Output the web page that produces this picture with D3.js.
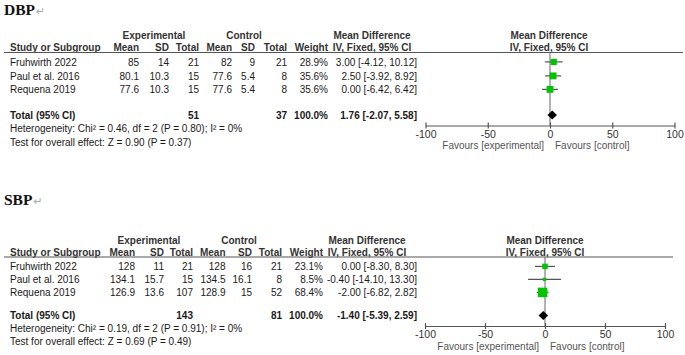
<!DOCTYPE html>
<html>
<head>
<meta charset="utf-8">
<script src="https://cdn.jsdelivr.net/npm/d3@7"></script>
<style>
  body { margin: 0; background: #fff; }
  svg { display: block; }
  text { font-family: "Liberation Sans", Arial, sans-serif; font-size: 10px; fill: #1a1a1a; }
  .hdr { font-weight: bold; fill: #333; }
  .bold { font-weight: bold; }
  .axis path, .axis line { stroke: #555; }
  .axis text { font-family: "Liberation Sans", Arial, sans-serif; font-size: 10.5px; fill: #333; }
</style>
</head>
<body>
<svg width="685" height="355"></svg>
<script>
/* data */
var studies = ["Fruhwirth  2022", "Paul et al. 2016", "Requena 2019"];
var tickValues = [-100, -50, 0, 50, 100];

// DBP
var dbpExpMean = [85, 80.1, 77.6],
    dbpExpSD = [14, 10.3, 10.3],
    dbpExpN = [21, 15, 15],
    dbpCtlMean = [82, 77.6, 77.6],
    dbpCtlSD = [9, 5.4, 5.4],
    dbpCtlN = [21, 8, 8],
    dbpWeight = [28.9, 35.6, 35.6],
    dbpMD = [3.00, 2.50, 0.00],
    dbpLo = [-4.12, -3.92, -6.42],
    dbpHi = [10.12, 8.92, 6.42];
var dbpTotal = [51, 37, 100.0, 1.76, -2.07, 5.58]; // expN, ctlN, weight, md, lo, hi
var dbpHet = "Heterogeneity: Chi\u00b2 = 0.46, df = 2 (P = 0.80); I\u00b2 = 0%",
    dbpTest = "Test for overall effect: Z = 0.90 (P = 0.37)";

// SBP
var sbpExpMean = [128, 134.1, 126.9],
    sbpExpSD = [11, 15.7, 13.6],
    sbpExpN = [21, 15, 107],
    sbpCtlMean = [128, 134.5, 128.9],
    sbpCtlSD = [16, 16.1, 15],
    sbpCtlN = [21, 8, 52],
    sbpWeight = [23.1, 8.5, 68.4],
    sbpMD = [0.00, -0.40, -2.00],
    sbpLo = [-8.30, -14.10, -6.82],
    sbpHi = [8.30, 13.30, 2.82];
var sbpTotal = [143, 81, 100.0, -1.40, -5.39, 2.59];
var sbpHet = "Heterogeneity: Chi\u00b2 = 0.19, df = 2 (P = 0.91); I\u00b2 = 0%",
    sbpTest = "Test for overall effect: Z = 0.69 (P = 0.49)";

var svg = d3.select("svg");

// square size follows the weight (area ~ weight)
var size = d3.scaleSqrt().domain([0, 100]).range([0, 11.5]);

function ci(m, l, h) {
  return m.toFixed(2) + " [" + l.toFixed(2) + ", " + h.toFixed(2) + "]";
}

function drawPanel(title, d, L) {
  var g = svg.append("g");

  // title with the little return mark from the source document
  var t = g.append("text").attr("x", 4).attr("y", L.titleY)
      .style("font-family", "'Liberation Serif', 'Times New Roman', serif")
      .style("font-size", "15.5px").style("font-weight", "bold").style("fill", "#111")
      .text(title);
  t.append("tspan").attr("dx", 1).style("font-family", "'DejaVu Sans', sans-serif")
      .style("font-size", "11px").style("font-weight", "normal").style("fill", "#aaa")
      .text("\u21b5");

  var c = L.cols;
  // header, first line
  g.append("text").attr("class", "hdr").attr("x", L.grp.exp).attr("y", L.hdr1)
      .attr("text-anchor", "middle").text("Experimental");
  g.append("text").attr("class", "hdr").attr("x", L.grp.ctl).attr("y", L.hdr1)
      .attr("text-anchor", "middle").text("Control");
  g.append("text").attr("class", "hdr").attr("x", L.grp.md).attr("y", L.hdr1)
      .attr("text-anchor", "middle").text("Mean Difference");
  g.append("text").attr("class", "hdr").attr("x", L.grp.fp).attr("y", L.hdr1)
      .attr("text-anchor", "middle").text("Mean Difference");

  // header, second line
  g.append("text").attr("class", "hdr").attr("x", 10).attr("y", L.hdr2).text("Study or Subgroup");
  ["Mean", "SD", "Total", "Mean", "SD", "Total", "Weight"].forEach(function(h, i) {
    g.append("text").attr("class", "hdr").attr("x", c[i]).attr("y", L.hdr2)
        .attr("text-anchor", "end").text(h);
  });
  g.append("text").attr("class", "hdr").attr("x", L.grp.md).attr("y", L.hdr2)
      .attr("text-anchor", "middle").text("IV, Fixed, 95% CI");
  g.append("text").attr("class", "hdr").attr("x", L.grp.fp).attr("y", L.hdr2)
      .attr("text-anchor", "middle").text("IV, Fixed, 95% CI");

  g.append("line").attr("x1", 4).attr("x2", L.lineEnd)
      .attr("y1", L.line).attr("y2", L.line)
      .attr("stroke", "#555").attr("stroke-width", 1.2);

  // study rows
  studies.forEach(function(s, i) {
    var y = L.rows[i];
    g.append("text").attr("x", 10).attr("y", y).text(s);
    var vals = [d.expMean[i], d.expSD[i], d.expN[i], d.ctlMean[i], d.ctlSD[i], d.ctlN[i],
                d.weight[i].toFixed(1) + "%", ci(d.md[i], d.lo[i], d.hi[i])];
    vals.forEach(function(v, j) {
      g.append("text").attr("x", c[j]).attr("y", y).attr("text-anchor", "end").text(v);
    });
  });

  // total row
  var T = d.total;
  g.append("text").attr("class", "bold").attr("x", 10).attr("y", L.total).text("Total (95% CI)");
  [[2, T[0]], [5, T[1]], [6, T[2].toFixed(1) + "%"], [7, ci(T[3], T[4], T[5])]].forEach(function(p) {
    g.append("text").attr("class", "bold").attr("x", c[p[0]]).attr("y", L.total)
        .attr("text-anchor", "end").text(p[1]);
  });
  g.append("text").attr("x", 10).attr("y", L.het).text(d.het);
  g.append("text").attr("x", 10).attr("y", L.test).text(d.test);

  // forest plot
  var x = d3.scaleLinear().domain([-100, 100]).range(L.xr);

  g.append("line").attr("x1", x(0)).attr("x2", x(0))
      .attr("y1", L.line).attr("y2", L.axisY)
      .attr("stroke", "#666").attr("stroke-width", 1);

  var ax = g.append("g").attr("class", "axis")
      .attr("transform", "translate(0," + L.axisY + ")")
      .call(d3.axisBottom(x).tickValues(tickValues).tickSize(3).tickSizeOuter(0)
            .tickFormat(function(v) { return String(v); }));
  ax.select(".domain").attr("stroke-width", 1.2);
  ax.selectAll(".tick line").attr("y1", -3).attr("y2", 3).attr("stroke-width", 1.2);
  ax.selectAll(".tick text").attr("y", L.tickLab - L.axisY).attr("dy", null);

  g.append("text").attr("x", x(0) - 6).attr("y", L.fav).attr("text-anchor", "end")
      .style("fill", "#555").text("Favours [experimental]");
  g.append("text").attr("x", x(0) + 5).attr("y", L.fav)
      .style("fill", "#555").text("Favours [control]");

  studies.forEach(function(s, i) {
    var yc = L.rows[i] - 3.6;
    g.append("line").attr("x1", x(d.lo[i])).attr("x2", x(d.hi[i]))
        .attr("y1", yc).attr("y2", yc).attr("stroke", "#555").attr("stroke-width", 1.2);
    var w = size(d.weight[i]);
    g.append("rect").attr("x", x(d.md[i]) - w / 2).attr("y", yc - w / 2)
        .attr("width", w).attr("height", w).attr("fill", "#00c400");
  });

  var yt = L.total - 3.6;
  g.append("path")
      .attr("d", "M" + x(T[4]) + "," + yt + "L" + x(T[3]) + "," + (yt - 4.5) +
                 "L" + x(T[5]) + "," + yt + "L" + x(T[3]) + "," + (yt + 4.5) + "Z")
      .attr("fill", "#000");
}

drawPanel("DBP", {
  expMean: dbpExpMean, expSD: dbpExpSD, expN: dbpExpN,
  ctlMean: dbpCtlMean, ctlSD: dbpCtlSD, ctlN: dbpCtlN,
  weight: dbpWeight, md: dbpMD, lo: dbpLo, hi: dbpHi,
  total: dbpTotal, het: dbpHet, test: dbpTest
}, {
  titleY: 14.5, hdr1: 38.5, hdr2: 51, line: 52.5, lineEnd: 683,
  rows: [65.5, 79.5, 93], total: 118.5, het: 131.5, test: 145.5,
  cols: [139, 169, 199, 232, 255, 287, 328, 417],
  grp: { exp: 154, ctl: 244, md: 372, fp: 549 },
  xr: [425.5, 674.5], axisY: 125.5, tickLab: 137.5, fav: 149
});

drawPanel("SBP", {
  expMean: sbpExpMean, expSD: sbpExpSD, expN: sbpExpN,
  ctlMean: sbpCtlMean, ctlSD: sbpCtlSD, ctlN: sbpCtlN,
  weight: sbpWeight, md: sbpMD, lo: sbpLo, hi: sbpHi,
  total: sbpTotal, het: sbpHet, test: sbpTest
}, {
  titleY: 205, hdr1: 243.5, hdr2: 255.5, line: 257, lineEnd: 673,
  rows: [270, 283, 296], total: 319, het: 331.5, test: 344.5,
  cols: [135, 164, 193, 225.5, 252, 282, 323, 417],
  grp: { exp: 149, ctl: 239, md: 367, fp: 545 },
  xr: [425, 665], axisY: 326, tickLab: 338, fav: 349.5
});
</script>
</body>
</html>
